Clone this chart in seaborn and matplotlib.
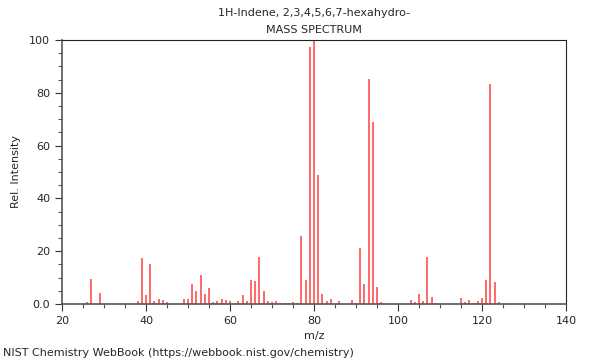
import numpy as np
import matplotlib
matplotlib.use('Agg')
import matplotlib.pyplot as plt
import seaborn as sns
from matplotlib.ticker import MultipleLocator, FixedFormatter, FixedLocator

# peaks
mz = [26, 27, 29, 38, 39, 40, 41, 42, 43, 44, 45, 49, 50, 51, 52, 53, 54, 55,
      56, 57, 58, 59, 60, 62, 63, 64, 65, 66, 67, 68, 69, 70, 71, 72, 73, 74,
      75, 76, 77, 78, 79, 80, 81, 82, 83, 84, 86, 89, 90, 91, 92, 93, 94, 95,
      96, 103, 104, 105, 106, 107, 108, 109, 115, 116, 117, 118, 119, 120, 121,
      122, 123, 124]
intensity = [0.8, 9.3, 4.0, 1.1, 17.3, 3.4, 15.2, 1.3, 1.9, 1.5, 0.6, 1.8, 1.9,
             7.6, 4.9, 11.0, 3.7, 6.1, 0.8, 1.1, 1.8, 1.6, 1.3, 1.0, 3.3, 1.1,
             9.1, 8.7, 17.7, 4.9, 1.0, 0.8, 1.0, 0.4, 0.3, 0.3, 0.8, 0.5, 25.8,
             9.1, 97.2, 100.0, 48.9, 3.8, 1.0, 1.8, 1.0, 1.4, 0.5, 21.1, 7.4,
             85.3, 68.9, 6.3, 0.6, 1.5, 0.7, 3.7, 1.0, 17.7, 2.5, 0.5, 2.1, 0.8,
             1.5, 0.5, 1.0, 2.1, 9.1, 83.5, 8.2, 0.8]

x_ticks = [20, 40, 60, 80, 100, 120, 140]
y_ticks = [0, 20, 40, 60, 80, 100]
y_labels = ['0.0', '20', '40', '60', '80', '100']

sns.set_style('ticks')
plt.rcParams['font.family'] = ['DejaVu Sans']

fig = plt.figure(figsize=(6, 3.6), dpi=100)
ax = fig.add_axes([62 / 600, 1 - 304 / 360, 504 / 600, 264 / 360])

ax.vlines(mz, 0, intensity, colors='#ff4040', linewidth=1.1)

ax.set_xlim(20, 140)
ax.set_ylim(0, 100)
ax.xaxis.set_major_locator(FixedLocator(x_ticks))
ax.xaxis.set_minor_locator(MultipleLocator(5))
ax.yaxis.set_major_locator(FixedLocator(y_ticks))
ax.yaxis.set_major_formatter(FixedFormatter(y_labels))
ax.yaxis.set_minor_locator(MultipleLocator(5))
ax.tick_params(which='major', length=5, width=0.8, labelsize=8, color='#333333')
ax.tick_params(which='minor', length=3, width=0.8, color='#555555')

for side in ['top', 'right']:
    ax.spines[side].set_visible(True)
    ax.spines[side].set_color('#222222')
    ax.spines[side].set_linewidth(0.8)
for side in ['left', 'bottom']:
    ax.spines[side].set_color('#555555')
    ax.spines[side].set_linewidth(1.2)

ax.set_xlabel('m/z', fontsize=8, labelpad=4)
ax.set_ylabel('Rel. Intensity', fontsize=8, labelpad=6)

fig.text(314 / 600, 1 - 13 / 360, '1H-Indene, 2,3,4,5,6,7-hexahydro-',
         ha='center', va='center', fontsize=8)
fig.text(314 / 600, 1 - 30 / 360, 'MASS SPECTRUM',
         ha='center', va='center', fontsize=8)
fig.text(3 / 600, 1 - 353 / 360,
         'NIST Chemistry WebBook (https://webbook.nist.gov/chemistry)',
         ha='left', va='center', fontsize=8)

fig.savefig('out.png', dpi=100)
